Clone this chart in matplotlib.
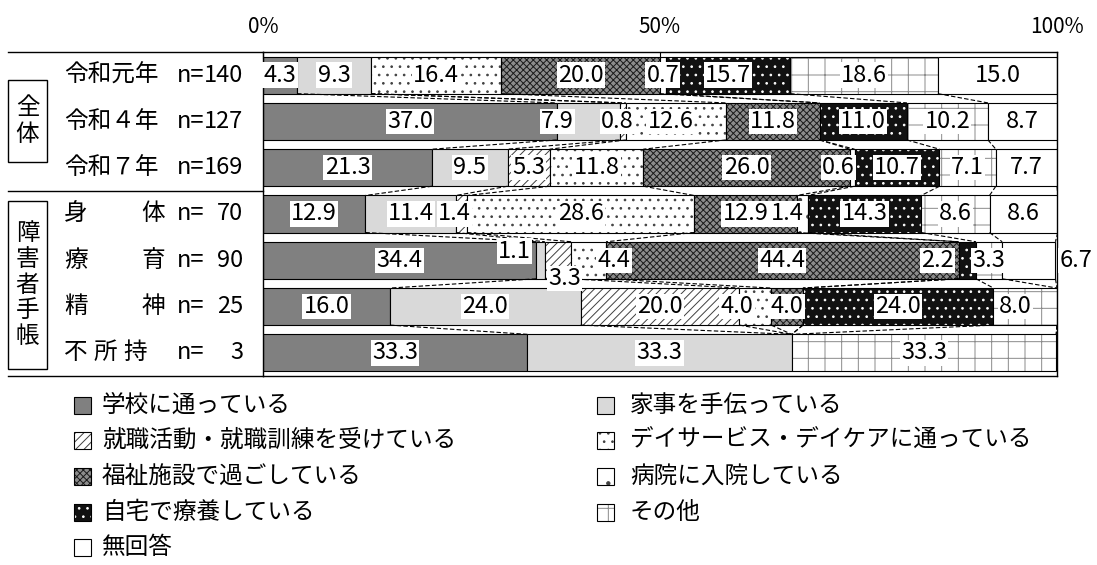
import numpy as np
import matplotlib.pyplot as plt
from matplotlib.patches import Rectangle

plt.rcParams['font.family'] = ['Noto Sans CJK JP', 'DejaVu Sans']
plt.rcParams['hatch.linewidth'] = 0.7

# data
categories = ['学校に通っている', '家事を手伝っている', '就職活動・就職訓練を受けている',
              'デイサービス・デイケアに通っている', '福祉施設で過ごしている', '病院に入院している',
              '自宅で療養している', 'その他', '無回答']
row_names = ['令和元年', '令和４年', '令和７年', '身体', '療育', '精神', '不所持']
n_values = [140, 127, 169, 70, 90, 25, 3]
group_names = ['全\n体', '障\n害\n者\n手\n帳']

school = [4.3, 37.0, 21.3, 12.9, 34.4, 16.0, 33.3]
housework = [9.3, 7.9, 9.5, 11.4, 1.1, 24.0, 33.3]
job = [0, 0.8, 5.3, 1.4, 3.3, 20.0, 0]
dayservice = [16.4, 12.6, 11.8, 28.6, 4.4, 4.0, 0]
welfare = [20.0, 11.8, 26.0, 12.9, 44.4, 4.0, 0]
hospital = [0.7, 0, 0.6, 1.4, 0, 0, 0]
home = [15.7, 11.0, 10.7, 14.3, 2.2, 24.0, 0]
other = [18.6, 10.2, 7.1, 8.6, 3.3, 8.0, 33.3]
no_answer = [15.0, 8.7, 7.7, 8.6, 6.7, 0, 0]

values = np.array([school, housework, job, dayservice, welfare,
                   hospital, home, other, no_answer])

# face, hatch, hatch colour
styles = [
    ('#808080', None, None),
    ('#d9d9d9', None, None),
    ('white', '////', '#404040'),
    ('white', '..', '#404040'),
    ('#8c8c8c', 'xxxxx', '#1a1a1a'),
    ('white', '.', '#404040'),
    ('#111111', '..', 'white'),
    ('white', '+', '#8a8a8a'),
    ('white', None, None),
]

# label nudges (row, category): (dx in %, dy in rows)
label_shift = {
    (1, 1): (-3.9, 0), (1, 2): (-0.7, 0), (1, 3): (-0.7, 0),
    (2, 5): (-1.7, 0),
    (3, 2): (-0.9, 0), (3, 5): (-1.9, 0),
    (4, 1): (-3.3, -0.2), (4, 2): (0.8, 0.4), (4, 3): (3.2, 0),
    (4, 6): (-3.8, 0), (4, 8): (5.9, 0),
    (5, 3): (-2.3, 0), (5, 7): (-1.2, 0),
}

W, H = 1097, 565
top_px, bot_px = 52, 376
left_px, right_px = 263, 1057
bar_h = 0.8
nrows = len(row_names)
row_px = (bot_px - top_px) / nrows

fig = plt.figure(figsize=(W / 100, H / 100), dpi=100)
ax = fig.add_axes([left_px / W, (H - bot_px) / H, (right_px - left_px) / W, (bot_px - top_px) / H])
ov = fig.add_axes([0, 0, 1, 1])
ov.set_xlim(0, W)
ov.set_ylim(H, 0)
ov.axis('off')

y = np.arange(nrows)
starts = np.vstack([np.zeros(nrows), np.cumsum(values, axis=0)[:-1]])
ends = np.cumsum(values, axis=0)


def draw_seg(axis, yy, left, width, height, style):
    face, hatch, hcol = style
    axis.barh(yy, width, left=left, height=height, color=face, linewidth=0)
    if hatch:
        axis.barh(yy, width, left=left, height=height, color='none',
                  edgecolor=hcol, hatch=hatch, linewidth=0)
    axis.barh(yy, width, left=left, height=height, fill=False,
              edgecolor='black', linewidth=0.8)


for k in range(len(categories)):
    m = values[k] > 0
    draw_seg(ax, y[m], starts[k][m], values[k][m], bar_h, styles[k])

# series lines between rows
for i in range(nrows - 1):
    for k in range(len(categories)):
        ax.plot([ends[k][i], ends[k][i + 1]], [i + bar_h / 2, i + 1 - bar_h / 2],
                color='black', lw=0.8, ls=(0, (4, 2)), zorder=1)

# data labels
for k in range(len(categories)):
    for i in range(nrows):
        v = values[k][i]
        if v <= 0:
            continue
        dx, dy = label_shift.get((i, k), (0, 0))
        ax.text(starts[k][i] + v / 2 + dx, i + dy, f'{v:.1f}', ha='center', va='center',
                fontsize=17, zorder=5,
                bbox=dict(boxstyle='square,pad=0.05', fc='white', ec='none'))

ax.set_xlim(0, 100)
ax.set_ylim(nrows - 0.5, -0.5)
ax.set_yticks([])
ax.xaxis.tick_top()
ax.set_xticks([0, 50, 100], ['0%', '50%', '100%'])
ax.tick_params(axis='x', direction='in', length=5, pad=10, labelsize=15)
for s in ax.spines.values():
    s.set_linewidth(1.0)

# left table
def row_y(i):
    return top_px + (i + 0.5) * row_px

ov.plot([8, left_px], [top_px, top_px], color='black', lw=1.0)
ov.plot([8, left_px], [bot_px, bot_px], color='black', lw=1.0)
ov.plot([8, left_px], [top_px + 3 * row_px, top_px + 3 * row_px], color='black', lw=1.0)
ov.add_patch(Rectangle((8, 80), 39, 82, fill=False, ec='black', lw=1.0))
ov.add_patch(Rectangle((8, 201), 39, 168, fill=False, ec='black', lw=1.0))
ov.text(27.5, 121, group_names[0], ha='center', va='center', fontsize=17, linespacing=1.2)
ov.text(27.5, 285, group_names[1], ha='center', va='center', fontsize=17, linespacing=1.15)

for i, name in enumerate(row_names):
    yy = row_y(i)
    if i < 3:
        ov.text(64, yy, name, ha='left', va='center', fontsize=17)
    else:
        xs = [76, 153] if len(name) == 2 else [76, 105, 135]
        for ch, xc in zip(name, xs):
            ov.text(xc, yy, ch, ha='center', va='center', fontsize=17)
    ov.text(204, yy, 'n=', ha='right', va='center', fontsize=17)
    ov.text(243, yy, str(n_values[i]), ha='right', va='center', fontsize=17)

# legend
for j, k in enumerate(range(len(categories))):
    col = j % 2
    r = j // 2
    yy = 405 + r * 35.7
    sx = 74 if col == 0 else 597
    tx = 102 if col == 0 else 630
    face, hatch, hcol = styles[k]
    ov.add_patch(Rectangle((sx, yy - 8.5), 17, 17, fc=face, lw=0))
    if hatch:
        ov.add_patch(Rectangle((sx, yy - 8.5), 17, 17, fc='none', ec=hcol, hatch=hatch, lw=0))
    ov.add_patch(Rectangle((sx, yy - 8.5), 17, 17, fill=False, ec='black', lw=0.8))
    ov.text(tx, yy, categories[k], ha='left', va='center', fontsize=17)

fig.savefig('out.png', dpi=100)
